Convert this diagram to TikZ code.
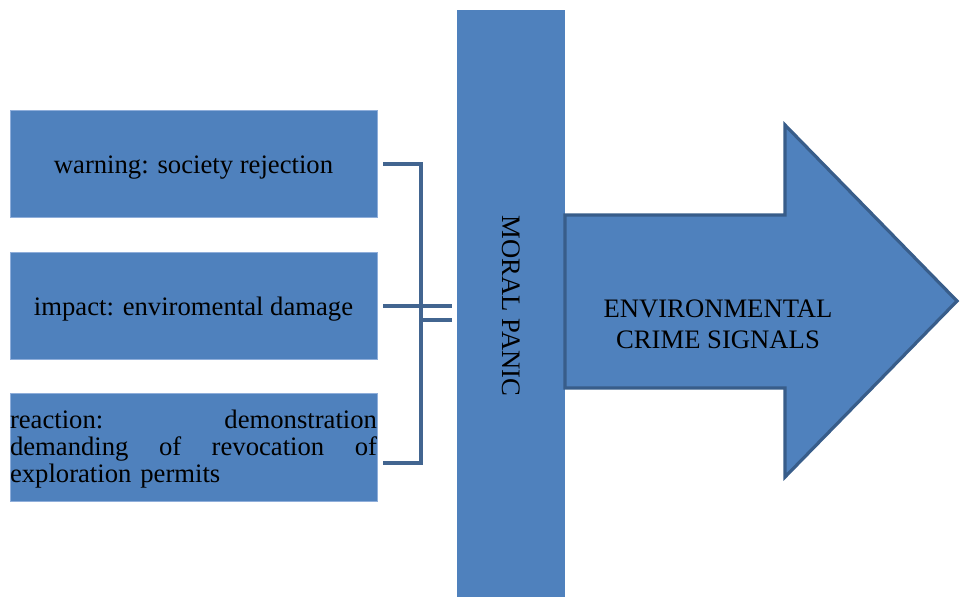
\documentclass[tikz,border=0pt]{standalone}
\usepackage{fontspec}
\setmainfont{Liberation Serif}
\usepackage{xcolor}
\usetikzlibrary{calc,positioning}
\definecolor{boxblue}{HTML}{4F81BD}
\definecolor{edgeblue}{HTML}{385D8A}
\definecolor{rimblue}{HTML}{8FAEDA}

\begin{document}
\begin{tikzpicture}[x=0.75pt, y=-0.75pt]
	\tikzstyle{every node}=[font=\fontsize{20}{20.25}\selectfont]
	\tikzstyle{cause}=[fill=boxblue, draw=rimblue, line width=0.6pt, minimum width=275.25pt, minimum height=80.6pt, inner sep=0pt, text height=13.5pt, text depth=0pt]
	\tikzstyle{bracket}=[draw=edgeblue!95, line width=3.4pt]
	\useasboundingbox (0,0) rectangle (962,597);
	% the three causes
	\node [cause] (warn) at (193.5,164) {warning: society rejection};
	\node [cause] (imp) at (193.5,306) {impact: enviromental damage};
	\node [cause, text width=275.25pt, align=left, text height=14pt, text depth=43.2pt] (react) at (193.5,447.5) {reaction:\hfill demonstration\\ demanding\hfill of\hfill revocation\hfill of\\ exploration permits};
	% moral panic bar
	\node [fill=boxblue, minimum width=81pt, minimum height=440.25pt, inner sep=0pt] (moral) at (511,303.5) {};
	\node [rotate=-90] (moraltxt) at ([yshift=-2pt]moral.center) {MORAL PANIC};
	% bracket joining the causes to the bar
	\coordinate (spine) at (421,306);
	\coordinate (reactend) at (383,463);
	\draw [bracket] ([xshift=4.5pt]warn.east) -| (spine) |- (reactend);
	\draw [bracket] ([xshift=4.5pt]imp.east) -- ([xshift=-3.75pt]imp.east -| moral.west);
	\draw [bracket] ([yshift=-10.5pt]spine) -- ([xshift=-3.75pt,yshift=-10.5pt]spine -| moral.west);
	% big arrow
	\draw [fill=boxblue, draw=edgeblue, line width=2.4pt] (565,215) -- (785,215) -- (785,125) -- (957,301) -- (785,477) -- (785,388) -- (565,388) -- cycle;
	\node [align=center, font=\fontsize{20}{23.25}\selectfont] (signals) at (718,324) {ENVIRONMENTAL\\CRIME SIGNALS};
\end{tikzpicture}
\end{document}
